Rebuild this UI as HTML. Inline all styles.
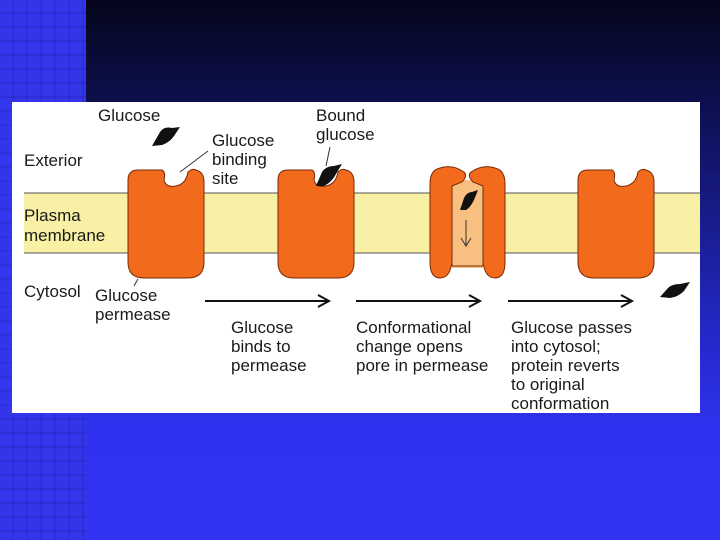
<!DOCTYPE html>
<html><head><style>
body{margin:0;width:720px;height:540px;overflow:hidden;background:linear-gradient(180deg,#05061c 0%,#0d1050 20%,#2428c8 62%,#3032f0 80%,#3234f2 100%);position:relative;font-family:"Liberation Sans",sans-serif}
#strip{position:absolute;left:0;top:0;width:86px;height:540px;background:#3335ea}
#strip:after{content:"";position:absolute;inset:0;background:repeating-linear-gradient(180deg,transparent 0 12px,rgba(0,0,80,.12) 12px 14px),repeating-linear-gradient(90deg,transparent 0 12px,rgba(0,0,80,.12) 12px 14px)}
svg{position:absolute;left:0;top:0}
</style></head><body>
<div id="strip"></div>
<svg width="720" height="540" viewBox="0 0 720 540" font-family="Liberation Sans, sans-serif" font-size="17" fill="#1a1a1a">
<rect x="12" y="102" width="688" height="311" fill="#fff"/>
<rect x="24" y="193" width="676" height="60" fill="#f8f0a4"/>
<line x1="24" y1="193" x2="700" y2="193" stroke="#555" stroke-width="1"/>
<line x1="24" y1="253" x2="700" y2="253" stroke="#555" stroke-width="1"/>
<g fill="#f26a1c" stroke="#7a2a08" stroke-width="1">
<path d="M138,170 H162 Q166,172 164,180 Q166,188 176,186 Q186,184 188,172 Q192,168 196,170 Q204,172 204,182 V262 Q204,278 188,278 H144 Q128,278 128,262 V180 Q128,170 138,170 Z"/>
<path d="M288,170 H312 Q316,172 314,180 Q316,188 326,186 Q336,184 338,172 Q342,168 346,170 Q354,172 354,182 V262 Q354,278 338,278 H294 Q278,278 278,262 V180 Q278,170 288,170 Z"/>
<path d="M588,170 H612 Q616,172 614,180 Q616,188 626,186 Q636,184 638,172 Q642,168 646,170 Q654,172 654,182 V262 Q654,278 638,278 H594 Q578,278 578,262 V180 Q578,170 588,170 Z"/>
<rect x="452" y="180" width="31" height="88" fill="#f8c080" stroke="none"/>
<path d="M440,168 Q452,164 464,172 Q468,176 462,182 L452,186 V262 Q450,278 440,278 Q430,278 430,262 V184 Q430,170 440,168 Z"/>
<path d="M495,168 Q483,164 471,172 Q467,176 473,182 L483,186 V262 Q485,278 495,278 Q505,278 505,262 V184 Q505,170 495,168 Z"/>
</g>
<line x1="452" y1="186" x2="452" y2="266" stroke="#7a2a08" stroke-dasharray="4,3"/>
<line x1="483" y1="186" x2="483" y2="266" stroke="#7a2a08" stroke-dasharray="4,3"/>
<line x1="452" y1="266" x2="483" y2="266" stroke="#7a2a08"/>
<g fill="#111">
<path d="M152,146 L160,132 Q164,126 172,128 L180,127 L174,136 Q170,142 162,145 Z"/>
<path d="M316,186 L322,172 Q326,166 334,166 L342,164 L336,174 Q332,182 324,186 Z"/>
<path d="M460,210 L464,198 Q467,192 472,192 L478,190 L474,200 Q470,208 466,210 Z"/>
<path d="M660,297 L668,288 Q672,284 680,284 L690,282 L684,291 Q678,297 670,298 Z"/>
</g>
<line x1="466" y1="220" x2="466" y2="246" stroke="#333"/>
<path d="M461,238 L466,246 L471,238" fill="none" stroke="#333"/>
<line x1="208" y1="151" x2="180" y2="172" stroke="#333"/>
<line x1="330" y1="147" x2="326" y2="166" stroke="#333"/>
<line x1="138" y1="279" x2="134" y2="286" stroke="#333"/>
<g stroke="#111" stroke-width="2" fill="none">
<line x1="205" y1="301" x2="329" y2="301"/><path d="M318,295 L329,301 L318,307"/>
<line x1="356" y1="301" x2="480" y2="301"/><path d="M469,295 L480,301 L469,307"/>
<line x1="508" y1="301" x2="632" y2="301"/><path d="M621,295 L632,301 L621,307"/>
</g>
<text x="98" y="121">Glucose</text>
<text x="24" y="166">Exterior</text>
<text x="24" y="221">Plasma</text><text x="24" y="241">membrane</text>
<text x="24" y="297">Cytosol</text>
<text x="95" y="301">Glucose</text><text x="95" y="320">permease</text>
<text x="212" y="146">Glucose</text><text x="212" y="165">binding</text><text x="212" y="184">site</text>
<text x="316" y="121">Bound</text><text x="316" y="140">glucose</text>
<text x="231" y="333">Glucose</text><text x="231" y="352">binds to</text><text x="231" y="371">permease</text>
<text x="356" y="333">Conformational</text><text x="356" y="352">change opens</text><text x="356" y="371">pore in permease</text>
<text x="511" y="333">Glucose passes</text><text x="511" y="352">into cytosol;</text><text x="511" y="371">protein reverts</text><text x="511" y="390">to original</text><text x="511" y="409">conformation</text>
</svg>
</body></html>
